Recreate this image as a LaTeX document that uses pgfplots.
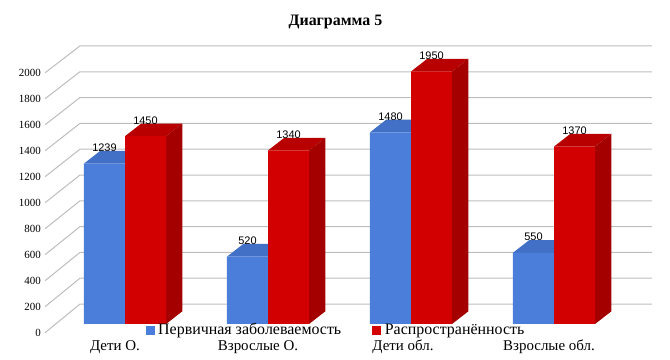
\documentclass[border=0pt]{standalone}
\usepackage{fontspec}
\setmainfont{Liberation Serif}
\newfontfamily\sansf{Liberation Sans}
\usepackage{pgfplots}
\usepackage{pgfplotstable}
\pgfplotsset{compat=1.18}
\definecolor{blueF}{HTML}{4A7EDA}
\definecolor{blueT}{HTML}{4270C6}
\definecolor{redF}{HTML}{D20000}
\definecolor{redT}{HTML}{B80000}
\definecolor{redS}{HTML}{A40000}
\definecolor{gridc}{HTML}{BDBDBD}
\pgfplotstableread{
x pr pv
0 1239 1450
1 520 1340
2 1480 1950
3 550 1370
}\data
\begin{document}
\begin{tikzpicture}
\useasboundingbox (0,0) rectangle (670bp,360bp);
\begin{axis}[
 scale only axis, width=670bp, height=360bp,
 xmin=-0.87413, xmax=3.81119, ymin=-277.99, ymax=2501.93,
 clip=false, axis line style={draw=none}, major tick length=0pt, tick style={draw=none},
 xtick={-0.070,0.930,1.944,2.965},
 xticklabels={Дети О.,Взрослые О.,Дети обл.,Взрослые обл.},
 xticklabel style={anchor=base, inner sep=0pt, yshift=10bp, font=\fontsize{15}{15}\selectfont},
 ytick={-67,133.7,334.4,535.1,735.8,936.5,1137.2,1337.9,1538.6,1739.3,1940},
 yticklabels={0,200,400,600,800,1000,1200,1400,1600,1800,2000},
 yticklabel style={anchor=east, inner sep=0pt, xshift=41bp, font=\fontsize{11}{11}\selectfont},
 title={Диаграмма 5},
 title style={at={(0.5007,0.9139)}, anchor=base, inner sep=0pt, font=\bfseries\fontsize{16}{16}\selectfont},
 /pgf/number format/assume math mode=true,
 /pgf/number format/1000 sep={},
]
\pgfplotsinvokeforeach{0,200,400,600,800,1000,1200,1400,1600,1800,2000}{
  \draw[gridc, line width=1bp] (axis cs:-0.559,{-67+1.0035*#1}) -- (axis cs:-0.315,{154+0.9965*#1}) -- (axis cs:3.685,{154+0.9965*#1});
}
% blue top faces
\addplot[fill=blueT, draw=none] coordinates {(-0.287,1239) (-0.173,1337) (0.114,1337) (0,1239)} -- cycle;
\addplot[fill=blueT, draw=none] coordinates {(0.713,520) (0.827,618) (1.114,618) (1,520)} -- cycle;
\addplot[fill=blueT, draw=none] coordinates {(1.713,1480) (1.827,1578) (2.114,1578) (2,1480)} -- cycle;
\addplot[fill=blueT, draw=none] coordinates {(2.713,550) (2.827,648) (3.114,648) (3,550)} -- cycle;
% blue fronts
\addplot[ybar, bar width=0.287, bar shift=-0.1435, fill=blueF, draw=none,
  nodes near coords,
  every node near coord/.append style={anchor=south, xshift=-20.5bp, yshift=11.5bp, inner sep=0pt, text=black, font=\sansf\fontsize{11}{11}\selectfont}]
  table[x=x, y=pr]{\data};
% red top faces
\addplot[fill=redT, draw=none] coordinates {(0,1450) (0.114,1548) (0.401,1548) (0.287,1450)} -- cycle;
\addplot[fill=redT, draw=none] coordinates {(1,1340) (1.114,1438) (1.401,1438) (1.287,1340)} -- cycle;
\addplot[fill=redT, draw=none] coordinates {(2,1950) (2.114,2048) (2.401,2048) (2.287,1950)} -- cycle;
\addplot[fill=redT, draw=none] coordinates {(3,1370) (3.114,1468) (3.401,1468) (3.287,1370)} -- cycle;
% red side faces
\addplot[fill=redS, draw=none] coordinates {(0.287,0) (0.401,98) (0.401,1548) (0.287,1450)} -- cycle;
\addplot[fill=redS, draw=none] coordinates {(1.287,0) (1.401,98) (1.401,1438) (1.287,1340)} -- cycle;
\addplot[fill=redS, draw=none] coordinates {(2.287,0) (2.401,98) (2.401,2048) (2.287,1950)} -- cycle;
\addplot[fill=redS, draw=none] coordinates {(3.287,0) (3.401,98) (3.401,1468) (3.287,1370)} -- cycle;
% red fronts
\addplot[ybar, bar width=0.287, bar shift=0.1435, fill=redF, draw=none,
  nodes near coords,
  every node near coord/.append style={anchor=south, xshift=20.5bp, yshift=11.5bp, inner sep=0pt, text=black, font=\sansf\fontsize{11}{11}\selectfont}]
  table[x=x, y=pv]{\data};
% legend
\node[anchor=base west, inner sep=0pt, font=\fontsize{16}{16}\selectfont] at (axis cs:0.1434,-84.9) {\textcolor{blueF}{\rule{9bp}{9bp}}\hspace{3.5bp}Первичная заболеваемость};
\node[anchor=base west, inner sep=0pt, font=\fontsize{16}{16}\selectfont] at (axis cs:1.725,-84.9) {\textcolor{redF}{\rule{9bp}{9bp}}\hspace{4bp}Распространённость};
\end{axis}
\end{tikzpicture}
\end{document}
